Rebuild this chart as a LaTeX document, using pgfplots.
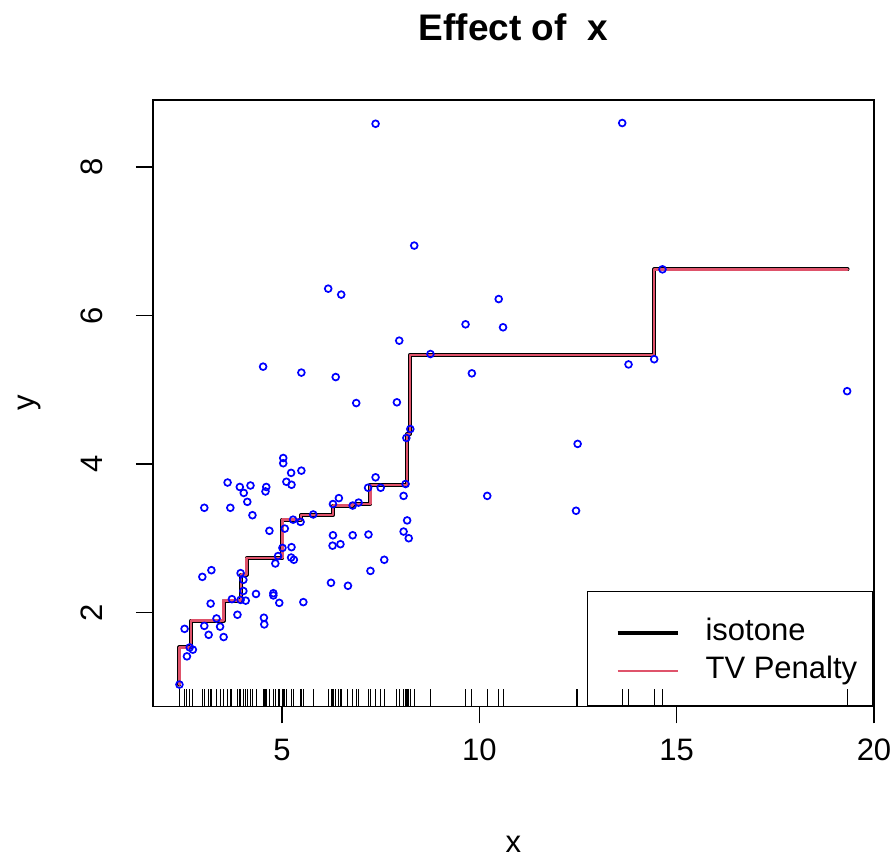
\documentclass[border=0pt]{standalone}
\usepackage{fontspec}
\setmainfont{Liberation Sans}
\usepackage{pgfplots}
\usepackage{pgfplotstable}
\pgfplotsset{compat=1.18}
\definecolor{tvred}{HTML}{DF536B}

% observed points (x, y)
\pgfplotstableread{
x y
7.37 8.58
13.62 8.59
8.35 6.94
6.17 6.36
6.50 6.28
10.49 6.22
9.65 5.88
10.60 5.84
7.97 5.66
8.76 5.48
4.52 5.31
5.49 5.23
9.81 5.22
6.36 5.17
13.78 5.34
14.43 5.41
14.64 6.62
19.32 4.98
6.88 4.82
7.91 4.83
8.25 4.47
8.15 4.35
12.49 4.27
10.20 3.57
12.45 3.37
5.03 4.08
5.03 4.01
5.23 3.88
5.49 3.91
3.62 3.75
3.93 3.69
4.20 3.71
4.03 3.61
4.60 3.69
4.58 3.63
5.11 3.76
5.24 3.72
4.12 3.49
3.03 3.41
3.69 3.41
4.25 3.31
7.37 3.82
7.18 3.68
7.50 3.68
8.13 3.73
8.08 3.57
6.44 3.54
6.29 3.46
6.79 3.44
6.94 3.48
5.79 3.32
5.28 3.25
5.47 3.22
8.17 3.24
8.08 3.09
8.21 3.00
4.68 3.10
5.07 3.13
6.29 3.04
6.79 3.04
7.19 3.05
6.28 2.90
6.48 2.92
5.24 2.88
5.01 2.87
4.90 2.76
5.23 2.74
5.30 2.71
7.59 2.71
7.24 2.56
4.83 2.66
6.24 2.40
6.67 2.36
5.54 2.14
3.21 2.57
2.98 2.48
3.95 2.53
4.02 2.44
4.02 2.29
4.34 2.25
4.78 2.26
4.78 2.23
4.93 2.13
3.19 2.12
3.73 2.18
3.95 2.17
4.08 2.16
3.87 1.97
3.34 1.92
4.54 1.93
4.55 1.84
2.53 1.78
3.03 1.82
3.43 1.81
3.14 1.70
3.52 1.67
2.66 1.53
2.74 1.50
2.59 1.41
2.40 1.03
}\pts

% step fit: x where each level starts, level value
\pgfplotstableread{
x y
2.40 1.03
2.69 1.53
3.52 1.89
3.96 2.16
4.10 2.51
5.01 2.73
5.48 3.25
6.29 3.31
6.79 3.44
7.24 3.46
8.17 3.72
8.24 4.40
14.43 5.47
19.33 6.62
}\fit

\begin{document}
\begin{tikzpicture}
\begin{axis}[
    scale only axis,
    width=360.5pt, height=303.25pt,
    xmin=1.73, xmax=20, ymin=0.735, ymax=8.9,
    axis line style={line width=0.8pt},
    xtick={5,10,15,20}, ytick={2,4,6,8},
    xtick pos=left, ytick pos=left,
    tick align=outside, major tick length=8.5pt,
    tick style={line width=0.8pt, black},
    font=\fontsize{15.5}{18.5}\selectfont,
    /pgf/number format/assume math mode=true,
    xticklabel style={anchor=center, yshift=-13.25pt},
    yticklabel style={xshift=-22pt, rotate=90, anchor=center},
    title={Effect of\ \ x},
    title style={at={(0.5,1)}, anchor=center, yshift=30.5pt,
        font=\bfseries\fontsize{18.5}{22}\selectfont},
    xlabel={x}, ylabel={y},
    every axis x label/.style={at={(axis description cs:0.5,0)}, anchor=center, yshift=-69pt},
    every axis y label/.style={at={(axis description cs:0,0.5)}, xshift=-61.5pt, rotate=90, anchor=center},
    legend style={draw=black, line width=0.8pt, fill=none,
        at={(rel axis cs:1,0)}, anchor=south east,
        inner xsep=8pt, inner ysep=12pt, row sep=5pt, column sep=13pt,
        nodes={inner sep=0pt, text height=12.5pt, text depth=1.5pt, anchor=base west}},
    legend image code/.code={\path (0pt,0pt); \draw[#1] (6pt,3.9pt) -- (36pt,3.9pt);},
    legend cell align=left,
]
\addlegendimage{black, line width=2pt}
\addlegendentry{isotone}
\addlegendimage{tvred, line width=0.7pt}
\addlegendentry{TV Penalty}

\addplot[only marks, mark=o, mark size=1.7pt, blue, line width=0.85pt, forget plot] table[x=x, y=y] {\pts};
\addplot[ycomb, black, line width=0.45pt, mark=none, forget plot] table[x=x, y expr=0.964] {\pts};
\addplot[const plot mark right, black, line width=2pt, line join=round, line cap=round, forget plot] table[x=x, y=y] {\fit};
\addplot[const plot mark right, tvred, line width=1.2pt, line join=round, line cap=round, forget plot] table[x=x, y=y] {\fit};
\end{axis}
\pgfresetboundingbox
\path[use as bounding box] ([shift={(-76.5pt,-76.25pt)}]current axis.south west) rectangle ([shift={(11pt,50pt)}]current axis.north east);
\end{tikzpicture}
\end{document}
